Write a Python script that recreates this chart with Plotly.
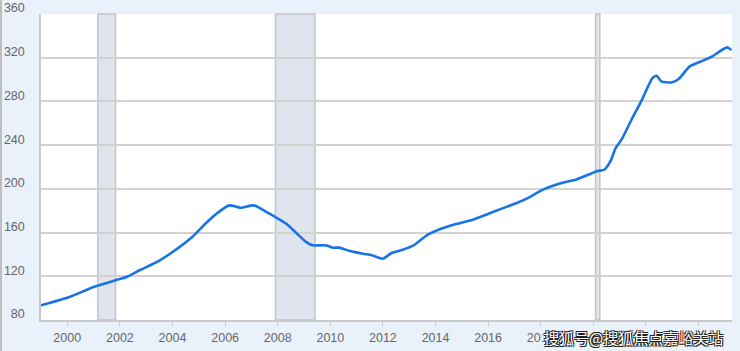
import plotly.graph_objects as go

dates = ["1999-01-01","2000-02-01","2001-01-01","2001-11-01","2002-04-01","2002-10-01","2003-06-01",
         "2004-01-01","2004-10-01","2005-04-01","2005-10-01","2006-03-01","2006-08-01","2007-02-01",
         "2007-08-01","2007-12-01","2008-05-01","2008-09-01","2009-02-01","2009-05-01","2009-11-01",
         "2010-02-01","2010-05-01","2010-10-01","2011-04-01","2011-08-01","2012-01-01","2012-05-01",
         "2012-10-01","2013-03-01","2013-09-01","2014-03-01","2014-10-01","2015-06-01","2016-02-01",
         "2016-06-01","2017-02-01","2017-08-01","2018-02-01","2018-11-01","2019-05-01","2019-11-01",
         "2020-03-01","2020-06-01","2020-09-01","2020-11-01","2021-02-01","2021-07-01","2021-11-01",
         "2022-04-01","2022-06-01","2022-08-01","2023-01-01","2023-04-01","2023-09-01","2024-03-01",
         "2024-07-01","2025-02-01","2025-04-01"]
index_values = [93.5,101.1,110.2,116.4,119.4,125.5,133.1,
                142.2,156.0,168.1,178.7,184.9,182.7,184.9,
                178.7,174.2,168.1,160.5,151.3,148.3,148.3,
                146.2,146.2,143.1,140.6,139.2,136.1,141.3,
                144.3,148.3,157.5,163.0,167.5,171.8,177.9,
                181.0,187.0,192.5,199.3,205.6,208.4,213.2,
                216.3,217.5,226.0,236.6,245.7,265.5,280.7,
                301.4,303.5,298.4,297.5,300.5,312.1,317.3,
                320.9,329.5,327.0]

recession_starts = ["2001-03-01", "2007-12-01", "2020-02-01"]
recession_ends = ["2001-11-01", "2009-06-01", "2020-04-01"]

y_ticks = [80, 120, 160, 200, 240, 280, 320, 360]
x_tick_years = list(range(2000, 2026, 2))
# labels from 2020 on are hidden under the watermark in the reference
x_tick_text = [str(y) if y <= 2018 else "" for y in x_tick_years]

BG = "#e9f1fb"
fig = go.Figure()
fig.add_trace(go.Scatter(x=dates, y=index_values, mode="lines",
                         line=dict(color="#1873e6", width=2.6, shape="spline", smoothing=0.6),
                         hoverinfo="skip", showlegend=False))

for s, e in zip(recession_starts, recession_ends):
    fig.add_shape(type="rect", xref="x", yref="paper", x0=s, x1=e, y0=0, y1=1,
                  fillcolor="#e0e5ed", line=dict(color="#c2c4c8", width=1.5), layer="below")

fig.add_annotation(text="搜狐号@搜狐焦点嘉峪关站", xref="paper", yref="paper",
                   x=(724 - 41) / 691, y=(320 - 337) / 306, xanchor="right", yanchor="middle",
                   showarrow=False, bgcolor=BG, borderpad=0,
                   font=dict(family="Noto Sans CJK SC", size=15, color="white",
                             shadow="1px 1px 0 #222, -1px -1px 0 #222, 1px -1px 0 #222, -1px 1px 0 #222"))

fig.update_layout(
    width=740, height=351,
    margin=dict(l=41, r=8, t=14, b=31, autoexpand=False),
    paper_bgcolor=BG, plot_bgcolor="white",
    font=dict(family="Liberation Sans, Arial", size=12, color="#666666"),
    xaxis=dict(range=["1999-01-01", "2025-04-10"], automargin=False,
               tickvals=[f"{y}-01-01" for y in x_tick_years],
               ticktext=x_tick_text,
               showgrid=False, showline=True, linecolor="#c8c8c8", linewidth=1.5,
               ticks="outside", ticklen=5, tickcolor="#d0d0d0", tickwidth=1,
               tickfont=dict(size=12.5, color="#666666"), zeroline=False),
    yaxis=dict(range=[80, 360], tickvals=y_ticks, automargin=False,
               showgrid=True, gridcolor="#d2d2d2", gridwidth=1.5,
               showline=True, linecolor="#c8c8c8", linewidth=1.5,
               ticks="", ticklabelstandoff=12, ticklabelshift=-6,
               tickfont=dict(size=12.5, color="#666666"), zeroline=False),
)

fig.add_shape(type="line", xref="paper", yref="paper", x0=-40/691, x1=-40/691, y0=-31/306, y1=1 + 14/306,
              line=dict(color="#bdbdbd", width=2))

fig.write_html("out.html")
